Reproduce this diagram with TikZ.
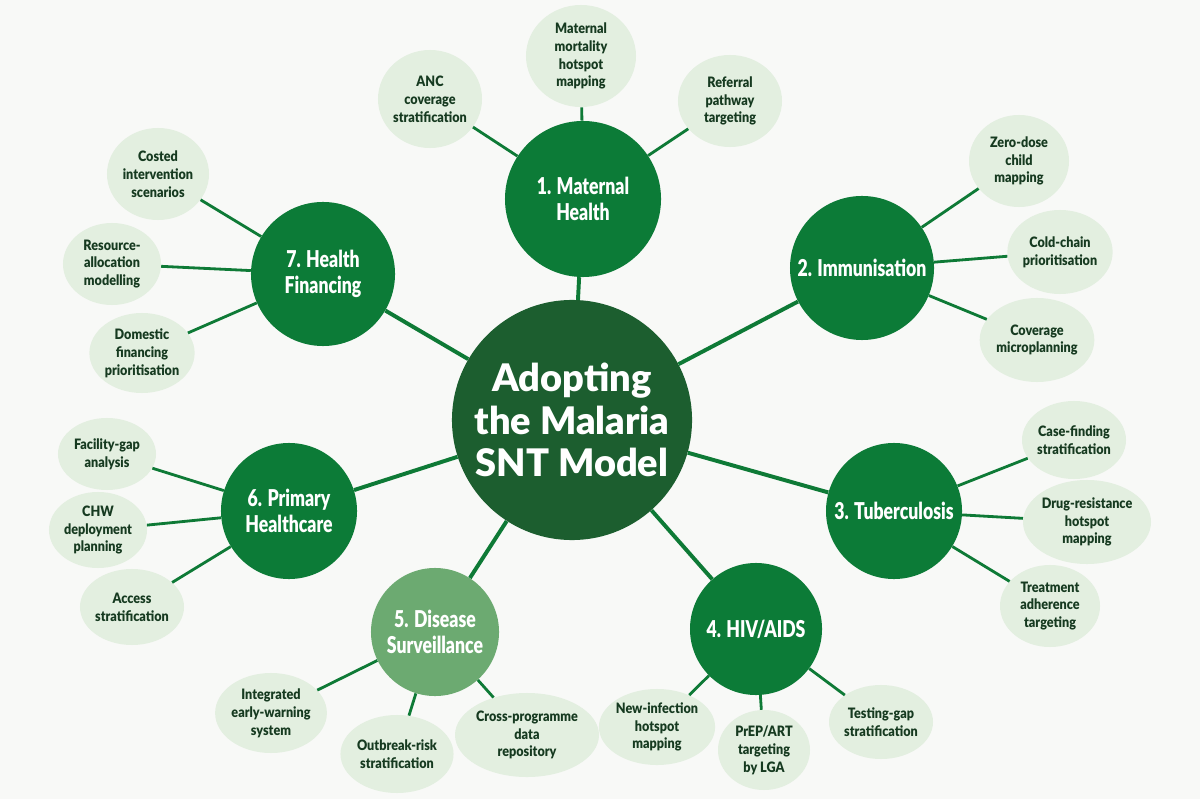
\documentclass[tikz,border=0pt]{standalone}
\usepackage{fontspec}
\setmainfont{Lato}[BoldFont={Lato Black}]
\newfontfamily\hubfont{Lato Black}[FakeStretch=0.76]
\newfontfamily\leaffont{Lato Black}[FakeStretch=0.88]
\usetikzlibrary{shapes.geometric}
\definecolor{bgc}{HTML}{F8F9F7}
\definecolor{coredark}{HTML}{1C5E2F}
\definecolor{hubgreen}{HTML}{0C7B37}
\definecolor{hublight}{HTML}{6CAA71}
\definecolor{leaffill}{HTML}{E3EFE0}
\definecolor{leaftext}{HTML}{163A20}
\definecolor{linkgreen}{HTML}{0E7A36}
\tikzset{
  core/.style={circle, fill=coredark, text=white, inner sep=0pt, minimum size=6cm, align=center,
    font=\bfseries\fontsize{27}{30}\selectfont},
  hub/.style={circle, fill=hubgreen, text=white, inner sep=0pt, align=center,
    font=\hubfont\fontsize{16.5}{18}\selectfont},
  leaf/.style={ellipse, fill=leaffill, text=leaftext, inner sep=0pt, align=center,
    font=\leaffont\fontsize{10.2}{12.7}\selectfont},
  mainlink/.style={draw=linkgreen, line width=2.8pt},
  sublink/.style={draw=linkgreen, line width=2pt}
}
\begin{document}
\begin{tikzpicture}[x=0.025cm, y=-0.025cm]
\fill[bgc] (0,0) rectangle (1200,799);
\useasboundingbox (0,0) rectangle (1200,799);
% core
\node[core] (C) at (572,420) {Adopting\\the Malaria\\SNT Model};
% hubs
\node[hub, minimum size=3.9cm] (H1) at (583,199) {1. Maternal\\Health};
\node[hub, minimum size=3.6cm] (H2) at (862,268) {2. Immunisation};
\node[hub, minimum size=3.4cm] (H3) at (894,511) {3. Tuberculosis};
\node[hub, minimum size=3.3cm] (H4) at (756,629) {4. HIV/AIDS};
\node[hub, minimum size=3.2cm, fill=hublight] (H5) at (435,632) {5. Disease\\Surveillance};
\node[hub, minimum size=3.4cm] (H6) at (289,511) {6. Primary\\Healthcare};
\node[hub, minimum size=3.6cm] (H7) at (323,274) {7. Health\\Financing};
% leaves
\node[leaf, minimum width=2.6cm, minimum height=2.45cm] (L1a) at (430,99) {ANC\\coverage\\stratification};
\node[leaf, minimum width=2.75cm, minimum height=2.55cm] (L1b) at (581,56) {Maternal\\mortality\\hotspot\\mapping};
\node[leaf, minimum width=2.6cm, minimum height=2.3cm] (L1c) at (730,101) {Referral\\pathway\\targeting};
\node[leaf, minimum width=2.5cm, minimum height=2.3cm] (L2a) at (1019,161) {Zero-dose\\child\\mapping};
\node[leaf, minimum width=2.5cm, minimum height=2.1cm] (L2b) at (1060,252) {Cold-chain\\prioritisation};
\node[leaf, minimum width=2.5cm, minimum height=2.1cm] (L2c) at (1037,340) {Coverage\\microplanning};
\node[leaf, minimum width=2.45cm, minimum height=1.95cm] (L3a) at (1074,440) {Case-finding\\stratification};
\node[leaf, minimum width=2.8cm, minimum height=2.1cm] (L3b) at (1087,522) {Drug-resistance\\hotspot\\mapping};
\node[leaf, minimum width=2.5cm, minimum height=2.05cm] (L3c) at (1050,606) {Treatment\\adherence\\targeting};
\node[leaf, minimum width=2.4cm, minimum height=1.9cm] (L4a) at (657,727) {New-infection\\hotspot\\mapping};
\node[leaf, minimum width=2.3cm, minimum height=2.0cm] (L4b) at (764,750) {PrEP/ART\\targeting\\by LGA};
\node[leaf, minimum width=2.45cm, minimum height=1.85cm] (L4c) at (881,722) {Testing-gap\\stratification};
\node[leaf, minimum width=2.5cm, minimum height=2.0cm] (L5a) at (271,713) {Integrated\\early-warning\\system};
\node[leaf, minimum width=2.55cm, minimum height=1.95cm] (L5b) at (397,754) {Outbreak-risk\\stratification};
\node[leaf, minimum width=2.55cm, minimum height=2.1cm] (L5c) at (527,735) {Cross-programme\\data\\repository};
\node[leaf, minimum width=2.45cm, minimum height=1.8cm] (L6a) at (107,454) {Facility-gap\\analysis};
\node[leaf, minimum width=2.45cm, minimum height=1.9cm] (L6b) at (98,530) {CHW\\deployment\\planning};
\node[leaf, minimum width=2.5cm, minimum height=1.9cm] (L6c) at (132,607) {Access\\stratification};
\node[leaf, minimum width=2.55cm, minimum height=2.3cm] (L7a) at (158,174) {Costed\\intervention\\scenarios};
\node[leaf, minimum width=2.45cm, minimum height=2.05cm] (L7b) at (112,264) {Resource-\\allocation\\modelling};
\node[leaf, minimum width=2.5cm, minimum height=2.0cm] (L7c) at (142,353) {Domestic\\financing\\prioritisation};
% links
\foreach \h in {H1,H2,H3,H4,H5,H6,H7} \draw[mainlink] (C) -- (\h);
\foreach \h/\l in {H1/L1a,H1/L1b,H1/L1c,H2/L2a,H2/L2b,H2/L2c,H3/L3a,H3/L3b,H3/L3c,
  H4/L4a,H4/L4b,H4/L4c,H5/L5a,H5/L5b,H5/L5c,H6/L6a,H6/L6b,H6/L6c,H7/L7a,H7/L7b,H7/L7c}
  \draw[sublink] (\h) -- (\l);
\end{tikzpicture}
\end{document}
